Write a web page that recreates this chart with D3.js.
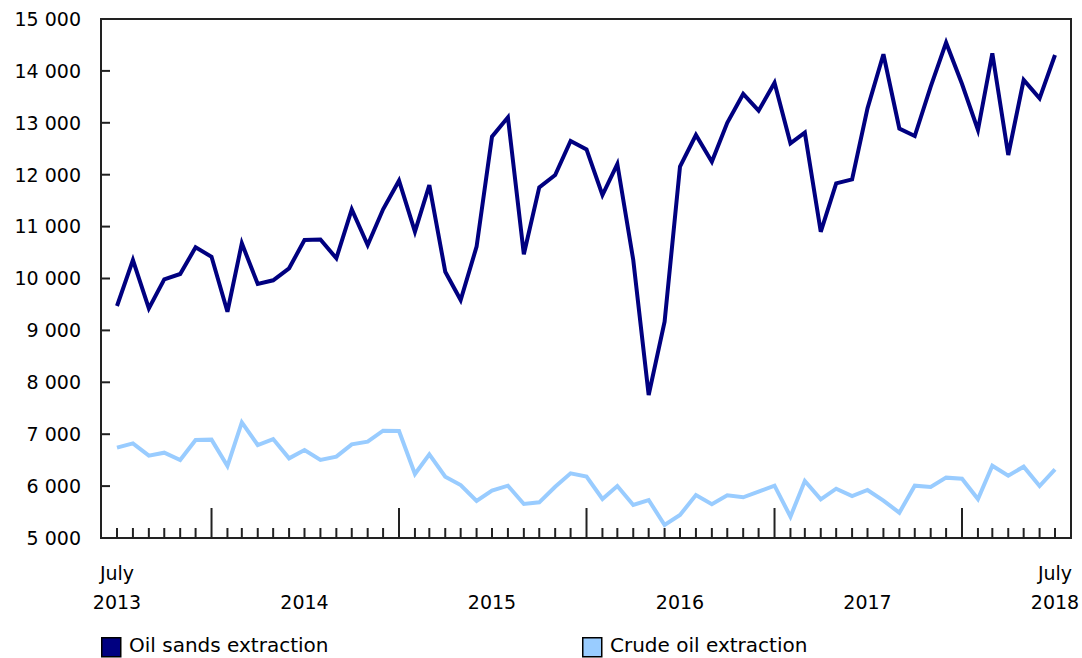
<!DOCTYPE html>
<html><head><meta charset="utf-8">
<script src="https://cdn.jsdelivr.net/npm/d3@7"></script>
<style>body{margin:0;background:#fff}svg{display:block}text{font-family:"DejaVu Sans",Verdana,sans-serif;fill:#000}</style>
</head><body><svg id="c" width="1082" height="658"></svg>
<script>
const startMonth = "2013-07";
const oilSands = [9470,10356,9425,9985,10087,10600,10420,9360,10678,9894,9965,10196,10742,10750,10390,11333,10645,11333,11885,10902,
11800,10131,9586,10613,12733,13105,10466,11757,11994,12649,12488,11609,12206,10356,7755,9168,12155,12765,12250,13000,
13555,13234,13773,12605,12810,10900,11834,11911,13279,14320,12890,12745,13696,14544,13747,12861,14339,12380,13825,13472,14306];
const crudeOil = [6740,6824,6586,6644,6503,6888,6895,6387,7229,6792,6907,6535,6696,6503,6567,6805,6856,7068,7060,6233,
6612,6182,6021,5713,5912,6008,5655,5687,5988,6246,6182,5751,6002,5636,5732,5250,5443,5828,5650,5822,
5784,5892,6008,5411,6098,5745,5950,5809,5925,5719,5488,6008,5983,6163,6143,5751,6393,6200,6374,6002,6323];
const yTicks = [5000,6000,7000,8000,9000,10000,11000,12000,13000,14000,15000];
const yearLabels = ["2013","2014","2015","2016","2017","2018"];
const seriesNames = ["Oil sands extraction","Crude oil extraction"];
const colors = ["#000080","#99ccff"];

const svg = d3.select("#c");
const L=101, R=1071, T=19, B=538;
const parse = d3.timeParse("%Y-%m");
const t0 = parse(startMonth);
const dates = oilSands.map((d,i)=>d3.timeMonth.offset(t0,i));
const x = d3.scaleTime().domain([dates[0], dates[dates.length-1]]).range([117,1055]);
const y = d3.scaleLinear().domain([5000,15000]).range([B,T]);
const fmt = v => d3.format(",")(v).replace(/,/g," ");

// frame
svg.append("rect").attr("x",L).attr("y",T).attr("width",R-L).attr("height",B-T)
  .attr("fill","none").attr("stroke","#222").attr("stroke-width",2);

// y axis ticks
const ya = svg.append("g");
yTicks.forEach(v=>{
  ya.append("line").attr("x1",L).attr("x2",L+9).attr("y1",y(v)).attr("y2",y(v)).attr("stroke","#222").attr("stroke-width",2);
  ya.append("text").attr("x",81).attr("y",y(v)).attr("dy","0.36em").attr("text-anchor","end").attr("font-size",19).text(fmt(v));
});

// x ticks
dates.forEach(d=>{
  const major = d.getMonth()===0;
  svg.append("line").attr("x1",x(d)).attr("x2",x(d)).attr("y1",B).attr("y2",major?B-30:B-10)
    .attr("stroke","#222").attr("stroke-width",2);
});

// x labels
svg.append("text").attr("x",x(dates[0])).attr("y",580).attr("text-anchor","middle").attr("font-size",19).text("July");
svg.append("text").attr("x",x(dates[dates.length-1])).attr("y",580).attr("text-anchor","middle").attr("font-size",19).text("July");
yearLabels.forEach((yr,i)=>{
  let d;
  if(i===0) d=dates[0]; else if(i===yearLabels.length-1) d=dates[dates.length-1]; else d=parse(yr+"-07");
  svg.append("text").attr("x",x(d)).attr("y",609).attr("text-anchor","middle").attr("font-size",19).text(yr);
});

// lines
const line = d3.line().x((d,i)=>x(dates[i])).y(d=>y(d));
[crudeOil, oilSands].forEach((s,k)=>{
  svg.append("path").datum(s).attr("d",line).attr("fill","none")
    .attr("stroke", k===0?colors[1]:colors[0]).attr("stroke-width",4).attr("stroke-linejoin","miter");
});

// legend
const lg = [[101,129],[582,610]];
seriesNames.forEach((n,i)=>{
  svg.append("rect").attr("x",lg[i][0]+0.75).attr("y",637.75).attr("width",19).attr("height",19)
    .attr("fill",colors[i]).attr("stroke","#000").attr("stroke-width",1.5);
  svg.append("text").attr("x",lg[i][1]).attr("y",652).attr("font-size",20).text(n);
});
</script></body></html>
